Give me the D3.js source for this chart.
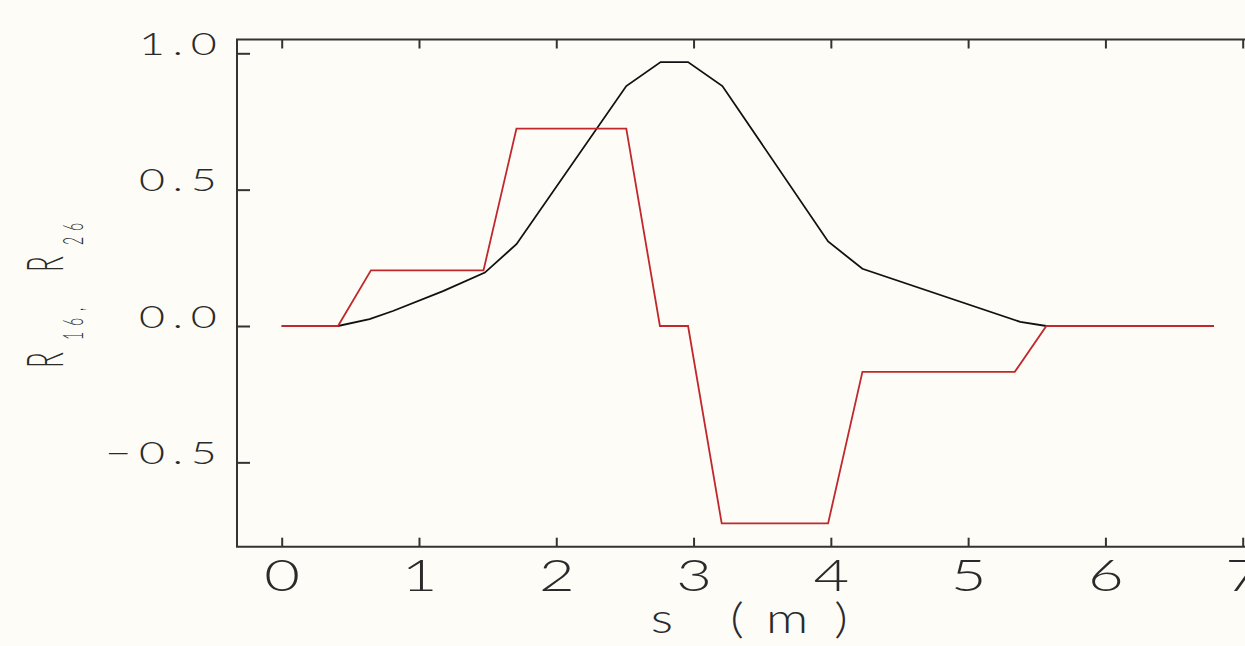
<!DOCTYPE html>
<html>
<head>
<meta charset="utf-8">
<script src="https://cdn.jsdelivr.net/npm/d3@7"></script>
<style>
  html, body { margin: 0; padding: 0; background: #fdfcf7; }
  svg { display: block; }
  text { font-family: Lato, "DejaVu Sans", sans-serif; font-weight: 300; fill: #2a2a2a; }
</style>
</head>
<body>
<svg id="chart" width="1245" height="646"></svg>
<script>
// Longitudinal position along the beamline (m)
const sR16 = [0, 0.41, 0.64, 0.81, 1.175, 1.48, 1.71, 2.51, 2.76, 2.96, 3.21, 3.98, 4.23, 5.38, 5.57, 6.79];
// Dispersion R16
const r16  = [0, 0, 0.025, 0.055, 0.128, 0.196, 0.30, 0.88, 0.968, 0.968, 0.88, 0.31, 0.21, 0.015, 0, 0];

const sR26 = [0, 0.41, 0.65, 1.47, 1.71, 2.51, 2.755, 2.96, 3.205, 3.98, 4.23, 5.34, 5.57, 6.79];
// Dispersion derivative R26
const r26  = [0, 0, 0.204, 0.204, 0.724, 0.724, 0, 0, -0.724, -0.724, -0.168, -0.168, 0, 0];

const xTicks = [0, 1, 2, 3, 4, 5, 6, 7];
const yTicks = [1.0, 0.5, 0.0, -0.5];

const svg = d3.select("#chart");

const frame = { left: 237, top: 39.5, bottom: 546.7, right: 1290 };
const x = d3.scaleLinear().domain([0, 7]).range([281.7, 1242.7]);
const y = d3.scaleLinear().domain([0, 1]).range([326, 53.3]);

// Bottom axis: ticks point up into the plot, wide thin numerals below
const gx = svg.append("g")
  .attr("transform", `translate(0,${frame.bottom})`)
  .call(d3.axisBottom(x).tickValues(xTicks).tickSizeInner(-9).tickSizeOuter(0).tickFormat(d3.format("d")));
gx.select(".domain").remove();
gx.selectAll(".tick line").attr("stroke", "#333").attr("stroke-width", 2);
gx.selectAll(".tick text")
  .attr("y", 44.3).attr("dy", null)
  .attr("font-size", 44)
  .attr("fill", "#2a2a2a")
  .attr("transform", "scale(1.4,1)");

// Top axis: tick marks only
const gt = svg.append("g")
  .attr("transform", `translate(0,${frame.top})`)
  .call(d3.axisTop(x).tickValues(xTicks).tickSizeInner(-9).tickSizeOuter(0).tickFormat(""));
gt.select(".domain").remove();
gt.selectAll(".tick line").attr("stroke", "#333").attr("stroke-width", 2);

// Left axis
const gy = svg.append("g")
  .attr("transform", `translate(${frame.left},0)`)
  .call(d3.axisLeft(y).tickValues(yTicks).tickSizeInner(-13).tickSizeOuter(0).tickFormat(d3.format(".1f")));
gy.select(".domain").remove();
gy.selectAll(".tick line").attr("stroke", "#333").attr("stroke-width", 2);
gy.selectAll(".tick text")
  .attr("x", -9).attr("dy", null).attr("y", 1)
  .attr("font-size", 32)
  .attr("fill", "#2a2a2a")
  .attr("letter-spacing", 5.5)
  .attr("transform", "scale(1.4,1)");

// Plot frame
svg.append("path")
  .attr("d", `M${frame.right},${frame.top}H${frame.left}V${frame.bottom}H${frame.right}`)
  .attr("fill", "none").attr("stroke", "#333").attr("stroke-width", 2);

// Curves
const line = d3.line().x(d => x(d[0])).y(d => y(d[1]));
svg.append("path")
  .datum(d3.zip(sR16, r16))
  .attr("d", line)
  .attr("fill", "none").attr("stroke", "#111").attr("stroke-width", 1.8);
svg.append("path")
  .datum(d3.zip(sR26, r26))
  .attr("d", line)
  .attr("fill", "none").attr("stroke", "#c0282d").attr("stroke-width", 1.8);

// X axis title "s (m)"
const xTitle = [["s", 662], ["(", 737], ["m", 787], [")", 841]];
svg.append("g").selectAll("text").data(xTitle).join("text")
  .attr("transform", d => `translate(${d[1]},633) scale(1.25,1)`)
  .attr("text-anchor", "middle")
  .attr("font-size", 42)
  .text(d => d[0]);

// Y axis title "R16, R26" (rotated, with subscripts)
const yTitle = svg.append("g").attr("transform", "translate(63,368) rotate(-90)");
const yParts = [
  { t: "R",  at: 0,   size: 52, dy: 0 },
  { t: "16", at: 28,  size: 28, dy: 20 },
  { t: ",",  at: 57,  size: 28, dy: 20 },
  { t: "R",  at: 96,  size: 52, dy: 0 },
  { t: "26", at: 123, size: 28, dy: 20 }
];
yTitle.selectAll("text").data(yParts).join("text")
  .attr("transform", d => `translate(${d.at},${d.dy}) scale(0.5,1)`)
  .style("font-size", d => d.size + "px")
  .attr("letter-spacing", d => d.t.length > 1 ? 12 : 0)
  .text(d => d.t);
</script>
</body>
</html>
